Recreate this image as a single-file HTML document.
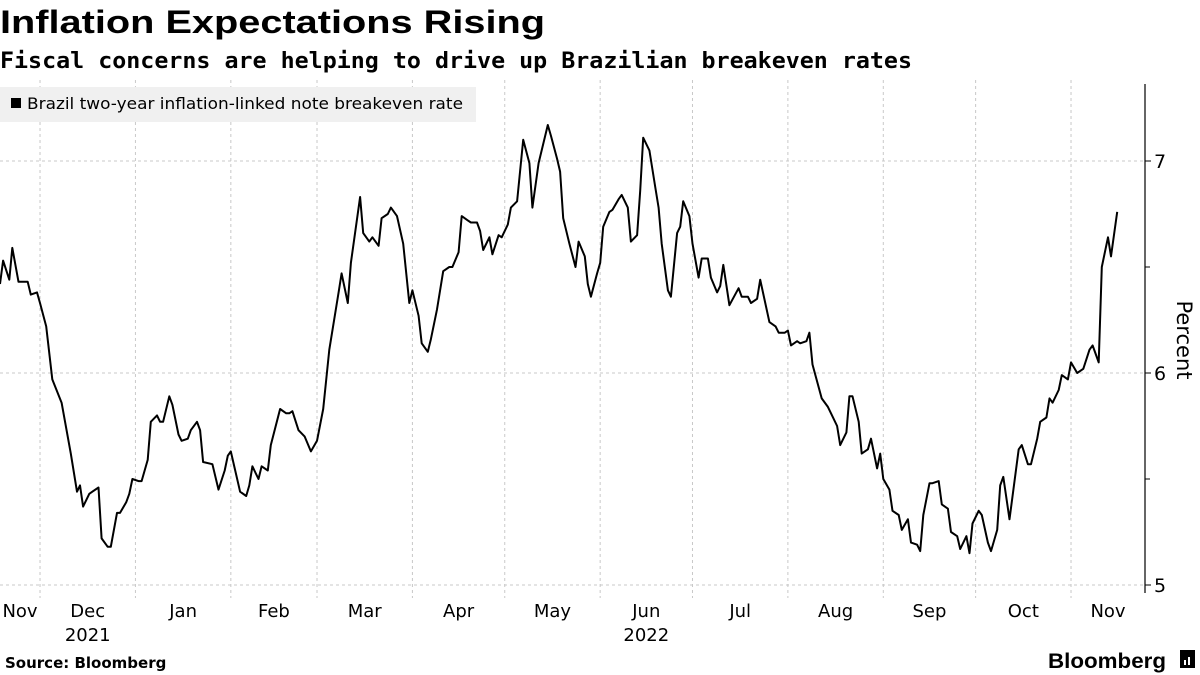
<!DOCTYPE html>
<html><head><meta charset="utf-8">
<style>
html,body{margin:0;padding:0;background:#fff;}
body{width:1200px;height:675px;overflow:hidden;font-family:"DejaVu Sans",sans-serif;}
svg{display:block;}
</style></head>
<body>
<svg id="chart" width="1200" height="675" viewBox="0 0 1200 675" xmlns="http://www.w3.org/2000/svg" font-family="DejaVu Sans, sans-serif">
  <text x="0" y="33" font-family="Liberation Sans, sans-serif" font-weight="bold" font-size="32" textLength="545" lengthAdjust="spacingAndGlyphs" fill="#000">Inflation Expectations Rising</text>
  <text x="0" y="68" font-family="DejaVu Sans Mono, monospace" font-weight="bold" font-size="22" textLength="912" lengthAdjust="spacingAndGlyphs" fill="#000">Fiscal concerns are helping to drive up Brazilian breakeven rates</text>
  <g id="grid"></g>
  <g id="axes"></g>
  <g>
    <rect x="0" y="87" width="476" height="35" fill="#f0f0f0"/>
    <rect x="11" y="98" width="10" height="10" fill="#000"/>
    <text x="27" y="109" font-size="16" textLength="436" lengthAdjust="spacingAndGlyphs" fill="#000">Brazil two-year inflation-linked note breakeven rate</text>
  </g>
  <g id="series"></g>
  <text transform="translate(1177,340) rotate(90)" text-anchor="middle" font-size="21" fill="#000">Percent</text>
  <text x="5" y="668" font-weight="bold" font-size="15" fill="#000">Source: Bloomberg</text>
  <text x="1048" y="668" font-family="Liberation Sans, sans-serif" font-weight="bold" font-size="21" textLength="118" lengthAdjust="spacingAndGlyphs" fill="#000">Bloomberg</text>
  <g>
    <rect x="1180" y="650" width="15" height="18" fill="#000"/>
    <rect x="1184" y="660" width="2" height="5" fill="#fff"/>
    <rect x="1188" y="657" width="2" height="8" fill="#fff"/>
  </g>
</svg>
<script>
// days since 2021-11-01
const days = [17,18,20,21,23,26,27,29,30,32,34,37,40,42,43,44,46,47,49,50,52,53,55,56,58,59,60,62,63,65,66,68,69,70,72,73,75,76,78,79,81,82,83,86,88,90,91,92,95,97,98,99,101,102,104,105,108,110,111,112,114,116,118,120,122,124,127,128,130,131,134,135,137,138,140,141,143,144,146,148,150,151,153,154,156,157,159,161,163,164,166,167,169,170,172,173,174,176,177,179,180,182,183,185,187,189,190,192,195,196,198,199,200,202,204,205,207,208,209,211,212,213,215,216,218,219,221,222,224,225,226,228,230,231,232,234,235,237,238,239,241,242,244,245,247,248,250,251,252,254,257,258,260,261,263,264,267,269,270,272,273,274,276,277,279,280,281,284,286,287,289,290,292,293,294,296,297,299,300,302,303,304,306,307,309,310,312,313,315,316,317,319,320,322,323,325,326,328,329,331,332,333,335,336,338,339,341,342,343,345,348,349,351,352,354,355,357,358,359,361,362,364,365,367,369,371,372,374,375,377,378,380];
const rates = [6.42,6.53,6.44,6.59,6.43,6.43,6.37,6.38,6.33,6.22,5.97,5.86,5.62,5.44,5.47,5.37,5.43,5.44,5.46,5.22,5.18,5.18,5.34,5.34,5.39,5.43,5.50,5.49,5.49,5.59,5.77,5.80,5.77,5.77,5.89,5.85,5.71,5.68,5.69,5.73,5.77,5.73,5.58,5.57,5.45,5.54,5.61,5.63,5.44,5.42,5.47,5.56,5.50,5.56,5.54,5.66,5.83,5.81,5.81,5.82,5.73,5.70,5.63,5.68,5.83,6.11,6.38,6.47,6.33,6.52,6.83,6.66,6.62,6.64,6.60,6.73,6.75,6.78,6.74,6.61,6.33,6.39,6.27,6.14,6.10,6.16,6.30,6.48,6.50,6.50,6.57,6.74,6.72,6.71,6.71,6.67,6.58,6.64,6.56,6.65,6.64,6.70,6.78,6.81,7.10,6.99,6.78,6.99,7.17,7.12,7.01,6.95,6.73,6.61,6.50,6.62,6.55,6.42,6.36,6.47,6.52,6.69,6.76,6.77,6.82,6.84,6.78,6.62,6.65,6.86,7.11,7.05,6.87,6.78,6.61,6.39,6.36,6.66,6.69,6.81,6.74,6.61,6.45,6.54,6.54,6.45,6.38,6.41,6.51,6.32,6.40,6.36,6.36,6.33,6.35,6.44,6.24,6.22,6.19,6.19,6.20,6.13,6.15,6.14,6.15,6.19,6.04,5.88,5.84,5.81,5.75,5.66,5.72,5.89,5.89,5.77,5.62,5.64,5.69,5.55,5.62,5.50,5.45,5.35,5.33,5.26,5.31,5.20,5.19,5.16,5.33,5.48,5.48,5.49,5.38,5.36,5.25,5.23,5.17,5.23,5.15,5.29,5.35,5.33,5.20,5.16,5.26,5.47,5.51,5.31,5.64,5.66,5.57,5.57,5.69,5.77,5.79,5.88,5.86,5.92,5.99,5.97,6.05,6.00,6.02,6.11,6.13,6.05,6.50,6.64,6.55,6.76];
const yTicks = [5, 6, 7];
const yMinorTicks = [5.5, 6.5];
const monthLabels = ["Nov","Dec","Jan","Feb","Mar","Apr","May","Jun","Jul","Aug","Sep","Oct","Nov"];
const monthStartDays = [0,30,61,92,120,151,181,212,242,273,304,334,365];
const yearLabels = ["2021","2022"];
const yearMonthIndex = [1,7];

const NS = "http://www.w3.org/2000/svg";
const X0 = -52.3, KX = 3.0776, AXIS_X = 1145;
function xScale(d){ return X0 + d*KX; }
function yScale(v){ return 161 + (7 - v)*212; }
function mk(tag, attrs, parent){
  const e = document.createElementNS(NS, tag);
  for (const k in attrs) e.setAttribute(k, attrs[k]);
  parent.appendChild(e); return e;
}
const grid = document.getElementById('grid');
const axes = document.getElementById('axes');
const series = document.getElementById('series');

yTicks.forEach(function(t){
  const y = yScale(t);
  const l = mk('line', {x1:0, x2:AXIS_X, y1:y, y2:y, stroke:'#c8c8c8', 'stroke-width':1, 'stroke-dasharray':'3,3'}, grid);
  
  
  const tk = mk('line', {x1:AXIS_X, x2:AXIS_X+6, y1:y, y2:y, stroke:'#000', 'stroke-width':1}, axes);
  
  
  const tx = mk('text', {x:AXIS_X+9, y:y+7, 'font-size':19, fill:'#000'}, axes);
  tx.textContent = String(t);
  
  
});
yMinorTicks.forEach(function(t){
  const y = yScale(t);
  const tk = mk('line', {x1:AXIS_X, x2:AXIS_X+5, y1:y, y2:y, stroke:'#000', 'stroke-width':1}, axes);
  
  
});
const ax = mk('line', {x1:AXIS_X, x2:AXIS_X, y1:84, y2:593, stroke:'#000', 'stroke-width':1.2}, axes);



for (let i = 0; i < monthStartDays.length; i++){
  const xs = xScale(monthStartDays[i]);
  if (xs > 0 && xs < AXIS_X){
    const g = mk('line', {x1:xs, x2:xs, y1:80, y2:598, stroke:'#c8c8c8', 'stroke-width':1, 'stroke-dasharray':'3,3'}, grid);
    
    
  }
  const xe = i+1 < monthStartDays.length ? xScale(monthStartDays[i+1]) : AXIS_X;
  const mid = (Math.max(xs,0) + Math.min(xe,AXIS_X))/2;
  const t = mk('text', {x:mid, y:617, 'text-anchor':'middle', 'font-size':18, fill:'#000'}, axes);
  t.textContent = monthLabels[i];
  
  
}
yearLabels.forEach(function(lbl, j){
  const i = yearMonthIndex[j];
  const mid = (xScale(monthStartDays[i]) + xScale(monthStartDays[i+1]))/2;
  const t = mk('text', {x:mid, y:641, 'text-anchor':'middle', 'font-size':18, fill:'#000'}, axes);
  t.textContent = lbl;
  
  
});

let d = '';
for (let i = 0; i < days.length; i++){
  d += (i ? 'L' : 'M') + xScale(days[i]).toFixed(1) + ',' + yScale(rates[i]).toFixed(1);
}
const p = mk('path', {d:d, fill:'none', stroke:'#000', 'stroke-width':2, 'stroke-linejoin':'round'}, series);


</script>
</body></html>
